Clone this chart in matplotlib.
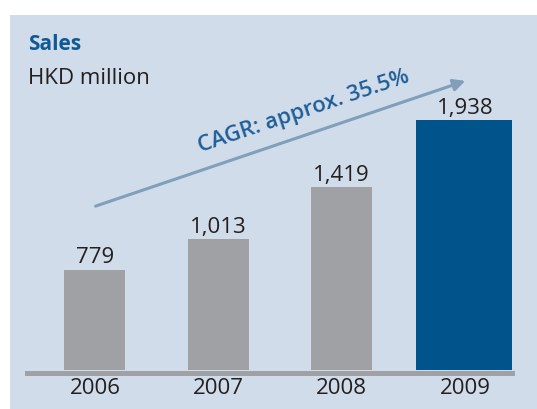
import matplotlib
matplotlib.use("Agg")
import matplotlib.pyplot as plt
from matplotlib.patches import Rectangle, FancyArrowPatch

years = ["2006", "2007", "2008", "2009"]
sales = [779, 1013, 1419, 1938]
value_labels = ["779", "1,013", "1,419", "1,938"]
title = "Sales"
unit = "HKD million"
cagr_text = "CAGR: approx. 35.5%"

W, H = 537, 409
fig = plt.figure(figsize=(W / 100, H / 100), dpi=100)
fig.patch.set_facecolor("white")
bg = "#D0DCE9"
fig.patches.append(Rectangle((10 / W, 0), 1 - 10 / W, 1 - 15 / H,
                             transform=fig.transFigure, facecolor=bg,
                             edgecolor="none", zorder=-5))

font = "Open Sans"
left, right, base, top = 27, 512, 370, 15
ax = fig.add_axes([left / W, 1 - base / H, (right - left) / W, (base - top) / H])
ax.set_facecolor("none")
xs = list(range(len(years)))
px_per_unit = 250 / 1938
ax.set_ylim(0, (base - top) / px_per_unit)
ax.set_xlim(-0.551, 3.382)

colors = ["#A0A1A4", "#A0A1A4", "#A0A1A4", "#00548C"]
widths = [0.495, 0.495, 0.495, 0.80]
ax.bar(xs, sales, width=widths, color=colors, zorder=2)

for x, v, lab in zip(xs, sales, value_labels):
    ax.annotate(lab, (x, v), xytext=(0, 1), textcoords="offset points",
                ha="center", va="bottom", fontsize=16, color="#231F20",
                family=font)

for s in ["top", "right", "left"]:
    ax.spines[s].set_visible(False)
ax.spines["bottom"].set_color("#A0A1A4")
ax.spines["bottom"].set_linewidth(3.6)
ax.spines["bottom"].set_position(("outward", 1.8))
ax.set_yticks([])
ax.set_xticks(xs)
ax.set_xticklabels(years, fontsize=16, color="#231F20", family=font)
ax.tick_params(axis="x", length=0, pad=4)

# CAGR arrow (figure pixel coordinates)
fig.patches.append(FancyArrowPatch(
    (93 / W, 1 - 207 / H), (468 / W, 1 - 80 / H), transform=fig.transFigure,
    arrowstyle="-|>,head_length=7,head_width=3.5", mutation_scale=1,
    color="#7F9FBA", linewidth=2.2, zorder=3))
fig.text(304 / W, 1 - 112 / H, cagr_text, rotation=18.6, rotation_mode="anchor",
         ha="center", va="center", fontsize=16, color="#1E5E99", family=font,
         fontweight="semibold")

fig.text(28 / W, 1 - 44 / H, title, ha="left", va="center", fontsize=15,
         fontweight="bold", color="#0F5A94", family=font)
fig.text(28 / W, 1 - 79 / H, unit, ha="left", va="center", fontsize=16,
         color="#231F20", family=font)

fig.savefig("out.png", dpi=100, facecolor=fig.get_facecolor())
